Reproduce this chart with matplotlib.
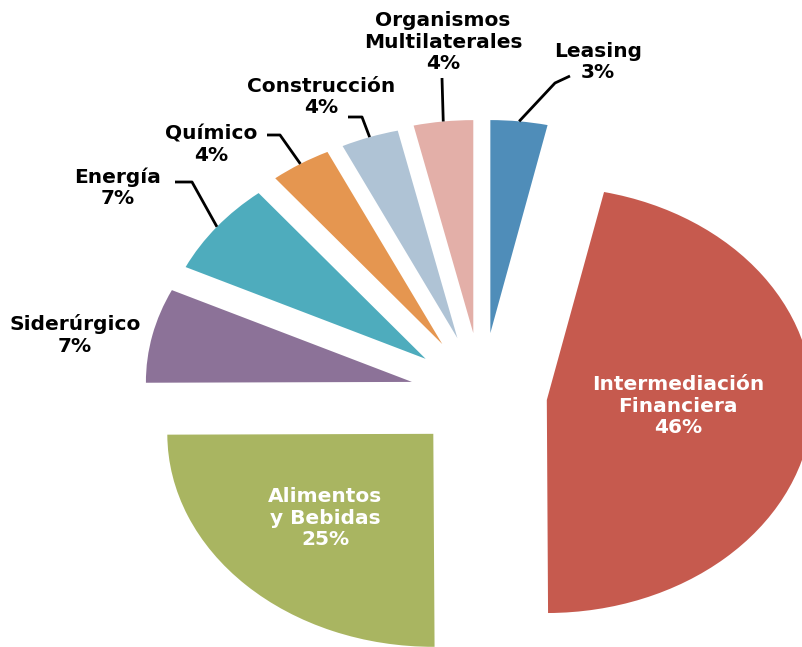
import matplotlib.pyplot as plt
import numpy as np

# ------------------------------------------------------------------ #
# Data
# ------------------------------------------------------------------ #
sectors = ["Leasing", "Intermediación\nFinanciera", "Alimentos\ny Bebidas",
           "Siderúrgico", "Energía", "Químico", "Construcción",
           "Organismos\nMultilaterales"]
shares = [3.45, 46.45, 25.0, 7.15, 7.1, 3.7, 3.5, 3.6]

# ------------------------------------------------------------------ #
# Style / layout
# ------------------------------------------------------------------ #
colors = ["#4F8DB9", "#C65A4E", "#A9B561", "#8C7298",
          "#4EACBD", "#E59650", "#AFC3D5", "#E3AFA8"]
explode = [0.29, 0.245, 0.26, 0.27, 0.27, 0.28, 0.28, 0.29]
inside = [False, True, True, False, False, False, False, False]

W, H = 803, 647
CX, CY, RX, RY = 482, 394.5, 266, 213   # pie centre / radii in pixels

# label centres (pixels, top-left origin)
label_pos = [(598, 62), (678, 406), (325, 518), (75, 335),
             (118, 188), (211, 145), (321, 97), (443, 42)]
# leader line elbow + end point (pixels), None = no leader
leaders = [[(555, 83), (570, 76)], None, None, None,
           [(192, 182), (175, 182)], [(280, 135), (267, 135)],
           [(362, 117), (348, 117)], [(442, 78)]]


def px(x, y):
    return (x - CX) / RX, (CY - y) / RY


fig = plt.figure(figsize=(W / 100, H / 100), dpi=100)
ax = fig.add_axes([0, 0, 1, 1])
wedges, _ = ax.pie(shares, explode=explode, colors=colors, startangle=90,
                   counterclock=False, radius=1,
                   wedgeprops=dict(linewidth=0))
ax.set_aspect("auto")
ax.set_xlim(px(0, 0)[0], px(W, 0)[0])
ax.set_ylim(px(0, H)[1], px(0, 0)[1])
ax.axis("off")

total = sum(shares)
for i, w in enumerate(wedges):
    txt = f"{sectors[i]}\n{shares[i] / total * 100:.0f}%"
    lx, ly = px(*label_pos[i])
    ax.text(lx, ly, txt, ha="center", va="center", ma="center",
            fontsize=14.5, fontweight="bold", linespacing=1.14,
            color="white" if inside[i] else "black",
            family="DejaVu Sans")
    if leaders[i]:
        mid = np.deg2rad((w.theta1 + w.theta2) / 2)
        x0 = w.center[0] + w.r * np.cos(mid)
        y0 = w.center[1] + w.r * np.sin(mid)
        pts = [(x0, y0)] + [px(*p) for p in leaders[i]]
        ax.plot([p[0] for p in pts], [p[1] for p in pts],
                color="black", lw=2, solid_capstyle="butt")

fig.savefig("out.png", dpi=100)
